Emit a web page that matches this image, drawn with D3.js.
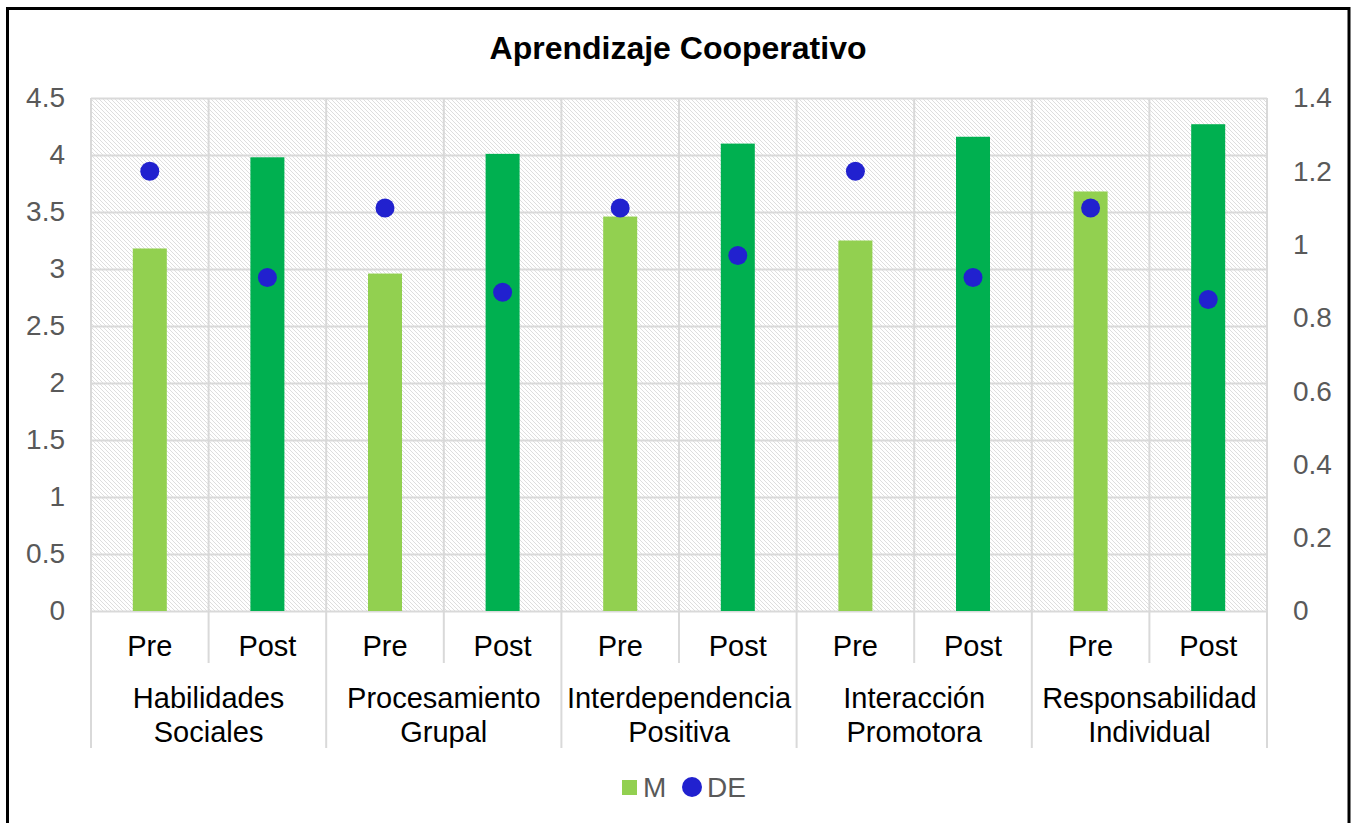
<!DOCTYPE html>
<html>
<head>
<meta charset="utf-8">
<script src="https://cdn.jsdelivr.net/npm/d3@7"></script>
<style>
  body { margin: 0; background: #fff; }
  svg { display: block; font-family: "Liberation Sans", Arial, sans-serif; }
</style>
</head>
<body>
<svg id="chart" width="1353" height="823"></svg>
<script>
// Chart data
var groups = [['Habilidades', 'Sociales'], ['Procesamiento', 'Grupal'], ['Interdependencia', 'Positiva'], ['Interacción', 'Promotora'], ['Responsabilidad', 'Individual']];
var phases = ['Pre', 'Post'];
var meanValues = [3.18, 3.98, 2.96, 4.01, 3.46, 4.10, 3.25, 4.16, 3.68, 4.27];
var sdValues = [1.20, 0.91, 1.10, 0.87, 1.10, 0.97, 1.20, 0.91, 1.10, 0.85];
var leftTicks = [0, 0.5, 1, 1.5, 2, 2.5, 3, 3.5, 4, 4.5];
var rightTicks = [0, 0.2, 0.4, 0.6, 0.8, 1, 1.2, 1.4];

var svg = d3.select('#chart');
var plot = { left: 91, right: 1267, top: 98, bottom: 611 };

// Build sub-category list (group index + phase)
var items = [];
groups.forEach(function(g, gi){
    phases.forEach(function(p, pi){
        items.push({ key: gi + '-' + p, group: gi, phase: p, m: meanValues[gi * 2 + pi], de: sdValues[gi * 2 + pi] });
    });
});

// Scales
var x = d3.scaleBand().domain(items.map(function(d){ return d.key })).range([plot.left, plot.right]).padding(0);
var xg = d3.scaleBand().domain(d3.range(groups.length)).range([plot.left, plot.right]).padding(0);
var y = d3.scaleLinear().domain([0, 4.5]).range([plot.bottom, plot.top]);
var y2 = d3.scaleLinear().domain([0, 1.4]).range([plot.bottom, plot.top]);

// Hatch pattern for plot background
var defs = svg.append('defs');
var pat = defs.append('pattern')
    .attr('id', 'hatch')
    .attr('patternUnits', 'userSpaceOnUse')
    .attr('width', 4).attr('height', 4);
pat.append('rect').attr('width', 4).attr('height', 4).attr('fill', '#fff');
pat.append('path')
    .attr('d', 'M0,0 L4,4 M-1,3 L1,5 M3,-1 L5,1')
    .attr('stroke', '#dadada')
    .attr('stroke-width', 0.9);

// Outer frame
svg.append('rect')
    .attr('x', 7.5).attr('y', 8.5)
    .attr('width', 1341.5).attr('height', 840)
    .attr('fill', '#fff')
    .attr('stroke', '#000')
    .attr('stroke-width', 3);

// Plot background
svg.append('rect')
    .attr('x', plot.left).attr('y', plot.top)
    .attr('width', plot.right - plot.left).attr('height', plot.bottom - plot.top)
    .attr('fill', 'url(#hatch)');

// Horizontal grid
svg.append('g')
    .attr('transform', 'translate(' + plot.left + ',0)')
    .call(d3.axisLeft(y).tickValues(leftTicks).tickSize(-(plot.right - plot.left)).tickFormat(''))
    .call(function(g){ g.select('.domain').remove() })
    .selectAll('line')
    .attr('stroke', '#d9d9d9')
    .attr('stroke-width', 2);

// Vertical grid at every sub-category boundary
var bounds = items.map(function(d){ return x(d.key) }).concat([plot.right]);
svg.append('g').selectAll('line')
    .data(bounds)
    .enter().append('line')
    .attr('x1', function(d){ return d }).attr('x2', function(d){ return d })
    .attr('y1', plot.top).attr('y2', plot.bottom)
    .attr('stroke', '#d9d9d9')
    .attr('stroke-width', 2);

// Separators below the axis: short between Pre/Post, long between groups
svg.append('g').selectAll('line')
    .data(bounds)
    .enter().append('line')
    .attr('x1', function(d){ return d }).attr('x2', function(d){ return d })
    .attr('y1', plot.bottom)
    .attr('y2', function(d, i){ return i % 2 === 0 ? 748 : 663 })
    .attr('stroke', '#d9d9d9')
    .attr('stroke-width', 2);

// Bars (M)
var barW = 34;
svg.append('g').selectAll('rect')
    .data(items)
    .enter().append('rect')
    .attr('x', function(d){ return x(d.key) + x.bandwidth() / 2 - barW / 2 })
    .attr('y', function(d){ return y(d.m) })
    .attr('width', barW)
    .attr('height', function(d){ return y(0) - y(d.m) })
    .attr('fill', function(d){ return d.phase === 'Pre' ? '#92d050' : '#00b050' });

// Dots (DE)
svg.append('g').selectAll('circle')
    .data(items)
    .enter().append('circle')
    .attr('cx', function(d){ return x(d.key) + x.bandwidth() / 2 })
    .attr('cy', function(d){ return y2(d.de) })
    .attr('r', 9.5)
    .attr('fill', '#2121cf');

// Left axis labels
svg.append('g')
    .attr('transform', 'translate(65,0)')
    .call(d3.axisLeft(y).tickValues(leftTicks).tickSize(0).tickPadding(0).tickFormat(d3.format('')))
    .call(function(g){ g.select('.domain').remove() })
    .selectAll('text')
    .attr('fill', '#595959')
    .attr('font-size', 28)
    .attr('font-family', '"Liberation Sans", Arial, sans-serif');

// Right axis labels
svg.append('g')
    .attr('transform', 'translate(1293,0)')
    .call(d3.axisRight(y2).tickValues(rightTicks).tickSize(0).tickPadding(0).tickFormat(d3.format('')))
    .call(function(g){ g.select('.domain').remove() })
    .selectAll('text')
    .attr('fill', '#595959')
    .attr('font-size', 28)
    .attr('font-family', '"Liberation Sans", Arial, sans-serif');

// Phase labels (Pre / Post)
svg.append('g').selectAll('text')
    .data(items)
    .enter().append('text')
    .attr('x', function(d){ return x(d.key) + x.bandwidth() / 2 })
    .attr('y', 656)
    .attr('text-anchor', 'middle')
    .attr('font-size', 29)
    .attr('fill', '#000')
    .text(function(d){ return d.phase });

// Group labels (two lines)
var gl = svg.append('g').selectAll('text')
    .data(groups)
    .enter().append('text')
    .attr('text-anchor', 'middle')
    .attr('font-size', 29)
    .attr('fill', '#000');
gl.selectAll('tspan')
    .data(function(d, i){ return d.map(function(t){ return { t: t, i: i } }) })
    .enter().append('tspan')
    .attr('x', function(d){ return xg(d.i) + xg.bandwidth() / 2 })
    .attr('y', function(d, j){ return 708 + j * 34 })
    .text(function(d){ return d.t });

// Title
svg.append('text')
    .attr('x', 678)
    .attr('y', 59)
    .attr('text-anchor', 'middle')
    .attr('font-size', 32)
    .attr('font-weight', 'bold')
    .attr('fill', '#000')
    .text('Aprendizaje Cooperativo');

// Legend
var leg = svg.append('g');
leg.append('rect')
    .attr('x', 622).attr('y', 780)
    .attr('width', 15).attr('height', 15)
    .attr('fill', '#92d050');
leg.append('text')
    .attr('x', 643).attr('y', 797)
    .attr('font-size', 28)
    .attr('fill', '#595959')
    .text('M');
leg.append('circle')
    .attr('cx', 692).attr('cy', 787)
    .attr('r', 10)
    .attr('fill', '#2121cf');
leg.append('text')
    .attr('x', 707).attr('y', 797)
    .attr('font-size', 28)
    .attr('fill', '#595959')
    .text('DE');
</script>
</body>
</html>
